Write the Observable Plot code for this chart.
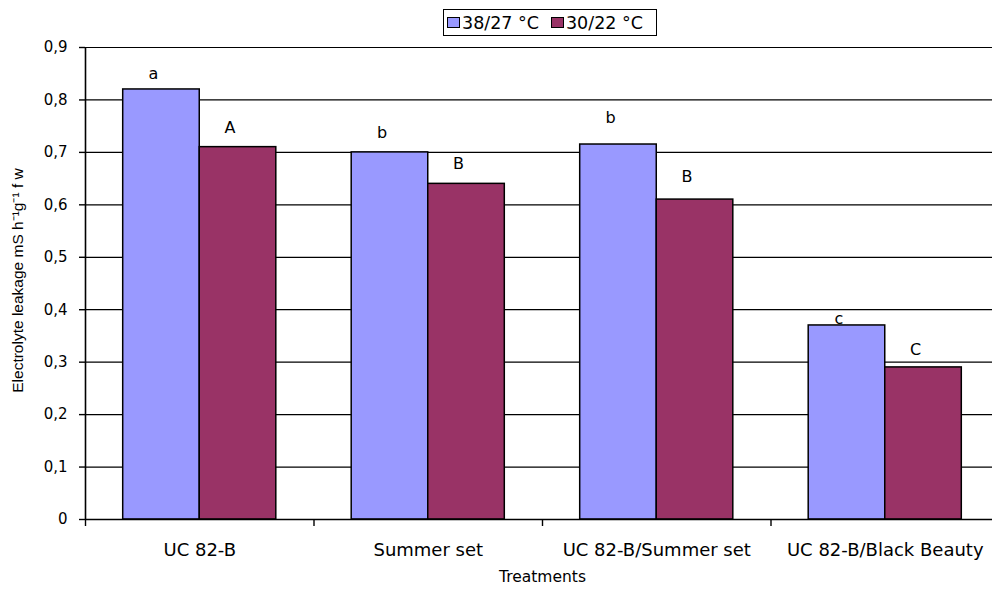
<!DOCTYPE html>
<html>
<head>
<meta charset="utf-8">
<script src="https://cdn.jsdelivr.net/npm/d3@7"></script>
<script src="https://cdn.jsdelivr.net/npm/@observablehq/plot@0.6"></script>
<style>
  html, body { margin: 0; padding: 0; background: #fff; overflow: hidden; }
  #wrap { position: relative; width: 992px; height: 592px; }
  #legend {
    position: absolute; left: 443px; top: 9px; width: 214px; height: 27px;
    box-sizing: border-box; border: 1.5px solid #000; background: #fff;
    display: flex; align-items: center; padding-left: 3px;
    font-family: "DejaVu Sans", sans-serif; font-size: 17.5px; color: #000; z-index: 2;
  }
  #legend .sw { display: inline-block; width: 13px; height: 11px; box-sizing: border-box; border: 1.5px solid #000; margin-right: 2px; }
  #legend .item { display: flex; align-items: center; margin-right: 12px; white-space: nowrap; }
</style>
</head>
<body>
<div id="wrap"><div id="legend"></div></div>
<script>
// ---- data ----
const categories = ["UC 82-B", "Summer set", "UC 82-B/Summer set", "UC 82-B/Black Beauty"];
const series = ["38/27 °C", "30/22 °C"];
const seriesColors = ["#9999FF", "#993366"];
const high = [0.82, 0.70, 0.715, 0.37];   // 38/27 °C
const low = [0.71, 0.64, 0.61, 0.29];     // 30/22 °C
const highLetters = ["a", "b", "b", "c"];
const lowLetters = ["A", "B", "B", "C"];
const highLetterY = [0.85, 0.737, 0.766, 0.382];
const lowLetterY = [0.747, 0.679, 0.654, 0.324];
const yTicks = [0, 0.1, 0.2, 0.3, 0.4, 0.5, 0.6, 0.7, 0.8, 0.9];
const yTickLabels = ["0", "0,1", "0,2", "0,3", "0,4", "0,5", "0,6", "0,7", "0,8", "0,9"];
const yLabel = "Electrolyte leakage mS h\u207B\u00B9g\u207B\u00B9 f w";
const xLabel = "Treatments";

// ---- legend ----
const legend = document.getElementById("legend");
series.forEach((s, i) => {
  const it = document.createElement("span");
  it.className = "item";
  const sw = document.createElement("span");
  sw.className = "sw";
  sw.style.background = seriesColors[i];
  it.appendChild(sw);
  it.appendChild(document.createTextNode(s));
  legend.appendChild(it);
});

// ---- chart ----
const BW = 0.335; // bar width in category units
const chart = Plot.plot({
  width: 992,
  height: 592,
  marginLeft: 85,
  marginRight: -7,
  marginTop: 47,
  marginBottom: 73,
  style: { fontFamily: "DejaVu Sans", background: "#fff", color: "#000", overflow: "hidden" },
  x: { domain: [0, categories.length], axis: null },
  y: { domain: [0, 0.9], axis: null },
  marks: [
    Plot.ruleY(yTicks.slice(1), { stroke: "#000", strokeWidth: 1.2 }),
    Plot.rectY(categories, {
      x1: (d, i) => i + 0.5 - BW, x2: (d, i) => i + 0.5,
      y1: 0, y2: (d, i) => high[i],
      fill: seriesColors[0], stroke: "#000", strokeWidth: 1.5
    }),
    Plot.rectY(categories, {
      x1: (d, i) => i + 0.5, x2: (d, i) => i + 0.5 + BW,
      y1: 0, y2: (d, i) => low[i],
      fill: seriesColors[1], stroke: "#000", strokeWidth: 1.5
    }),
    Plot.ruleY([0], { stroke: "#000", strokeWidth: 1.6 }),
    Plot.ruleX([0], { y1: 0, y2: 0.9, stroke: "#000", strokeWidth: 1.6 }),
    Plot.axisY({
      ticks: yTicks, tickFormat: (d, i) => yTickLabels[i], tickSize: 6, tickPadding: 12,
      fontSize: 15, label: null, strokeWidth: 1.4
    }),
    Plot.axisX({
      ticks: [0, 1, 2, 3], tickFormat: () => "", tickSize: 7, label: null, strokeWidth: 1.4
    }),
    Plot.text(categories, { x: (d, i) => i + 0.5, y: 0, dy: 31, fontSize: 18 }),
    Plot.text(highLetters, { x: (d, i) => i + 0.5 - BW / 2, y: (d, i) => highLetterY[i], dx: -8, fontSize: 16 }),
    Plot.text(lowLetters, { x: (d, i) => i + 0.5 + BW / 2, y: (d, i) => lowLetterY[i], dx: -8, fontSize: 16 }),
    Plot.text([xLabel], { frameAnchor: "bottom", lineAnchor: "middle", dy: 58, fontSize: 15.5 }),
    Plot.text([yLabel], { frameAnchor: "left", textAnchor: "middle", lineAnchor: "middle", rotate: -90, dx: -67, dy: -3, fontSize: 15.5, fontFamily: "Liberation Sans" })
  ]
});
document.getElementById("wrap").appendChild(chart);
</script>
</body>
</html>
